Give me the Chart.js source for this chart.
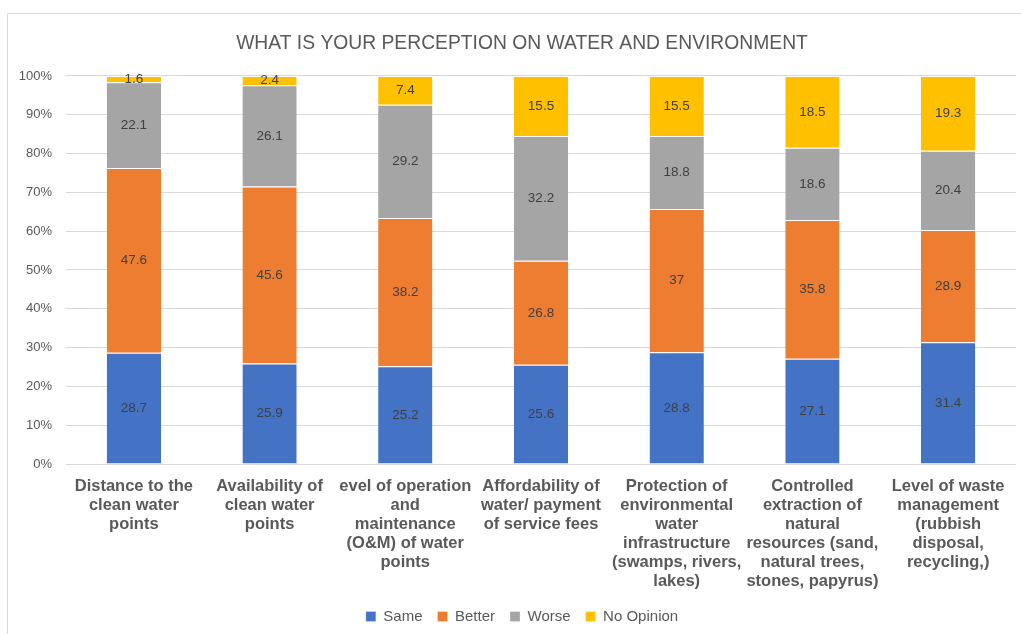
<!DOCTYPE html>
<html>
<head>
<meta charset="utf-8">
<title>Water and environment perception</title>
<script src="https://cdn.jsdelivr.net/npm/chart.js@4.4.1/dist/chart.umd.min.js"></script>
<style>
  html, body { margin: 0; padding: 0; background: #fff; overflow: hidden; }
  #wrap { position: relative; width: 1021px; height: 634px; }
  #frame { position: absolute; left: 7px; top: 13px; width: 1040px; height: 660px; border: 1px solid #d9d9d9; box-sizing: border-box; }
  #perceptionChart { position: absolute; left: 0; top: 0; }
</style>
</head>
<body>
<div id="wrap">
  <div id="frame"></div>
  <canvas id="perceptionChart" width="1021" height="634"></canvas>
</div>
<script>
const categories = [
    ['Distance to the', 'clean water', 'points'],
    ['Availability of', 'clean water', 'points'],
    ['evel of operation', 'and', 'maintenance', '(O&M) of water', 'points'],
    ['Affordability of', 'water/ payment', 'of service fees'],
    ['Protection of', 'environmental', 'water', 'infrastructure', '(swamps, rivers,', 'lakes)'],
    ['Controlled', 'extraction of', 'natural', 'resources (sand,', 'natural trees,', 'stones, papyrus)'],
    ['Level of waste', 'management', '(rubbish', 'disposal,', 'recycling,)']
];

const same      = [28.7, 25.9, 25.2, 25.6, 28.8, 27.1, 31.4];
const better    = [47.6, 45.6, 38.2, 26.8, 37, 35.8, 28.9];
const worse     = [22.1, 26.1, 29.2, 32.2, 18.8, 18.6, 20.4];
const noOpinion = [1.6, 2.4, 7.4, 15.5, 15.5, 18.5, 19.3];

const seriesNames  = ['Same', 'Better', 'Worse', 'No Opinion'];
const seriesColors = ['#4472c4', '#ed7d31', '#a5a5a5', '#ffc000'];
const yTicks = [0, 10, 20, 30, 40, 50, 60, 70, 80, 90, 100];

const textColor = '#595959';
const gridColor = '#d9d9d9';
const fontFamily = '"Liberation Sans", Arial, sans-serif';

// 100% stacked: each column is scaled to its own total
const series = [same, better, worse, noOpinion];
const totals = categories.map((c, i) => series.reduce((s, arr) => s + arr[i], 0));

const datasets = series.map((arr, k) => ({
    label: seriesNames[k],
    raw: arr,
    data: arr.map((v, i) => v / totals[i] * 100),
    backgroundColor: seriesColors[k],
    borderColor: '#ffffff',
    borderWidth: { top: 1, bottom: 0, left: 0, right: 0 },
    borderSkipped: false,
    barPercentage: 0.4,
    categoryPercentage: 1.0
}));

// value text in the middle of each segment
const segmentLabels = {
    id: 'segmentLabels',
    afterDatasetsDraw(chart) {
        const ctx = chart.ctx;
        ctx.save();
        ctx.font = '13.5px ' + fontFamily;
        ctx.fillStyle = '#404040';
        ctx.textAlign = 'center';
        ctx.textBaseline = 'middle';
        chart.data.datasets.forEach((ds, di) => {
            const meta = chart.getDatasetMeta(di);
            meta.data.forEach((bar, i) => {
                const mid = (bar.y + bar.base) / 2;
                ctx.fillText(String(ds.raw[i]), bar.x, mid);
            });
        });
        ctx.restore();
    }
};

// the y axis box is kept narrow; widen its label clip so "100%" is not cut
const wideYLabels = {
    id: 'wideYLabels',
    afterLayout(chart) { chart.scales.y.left = 0; }
};

new Chart(document.getElementById('perceptionChart').getContext('2d'), {
    type: 'bar',
    data: { labels: categories, datasets: datasets },
    options: {
        responsive: false,
        animation: false,
        layout: { padding: { left: 28, right: 5, top: 0, bottom: 0 } },
        plugins: {
            title: {
                display: true,
                text: 'WHAT IS YOUR PERCEPTION ON WATER AND ENVIRONMENT',
                color: textColor,
                font: { family: fontFamily, size: 19.3, weight: 'normal', lineHeight: 1.2 },
                padding: { top: 32, bottom: 20.8 }
            },
            legend: {
                position: 'bottom',
                labels: {
                    color: textColor,
                    boxWidth: 10,
                    boxHeight: 10,
                    padding: 15,
                    font: { family: fontFamily, size: 15 }
                }
            },
            tooltip: { enabled: false }
        },
        scales: {
            x: {
                stacked: true,
                grid: { display: false },
                border: { display: false },
                ticks: {
                    color: textColor,
                    maxRotation: 0,
                    autoSkip: false,
                    padding: 5,
                    font: { family: fontFamily, size: 16.5, weight: 'bold', lineHeight: 1.15 }
                },
                afterFit(scale) { scale.height = 130; }
            },
            y: {
                stacked: true,
                min: 0,
                max: 100,
                grid: { color: gridColor, drawTicks: false },
                border: { display: false },
                afterBuildTicks(scale) { scale.ticks = yTicks.map(v => ({ value: v })); },
                ticks: {
                    color: textColor,
                    padding: 14,
                    font: { family: fontFamily, size: 13 },
                    callback: v => v + '%'
                },
                afterFit(scale) { scale.width = 38; }
            }
        }
    },
    plugins: [segmentLabels, wideYLabels]
});
</script>
</body>
</html>
